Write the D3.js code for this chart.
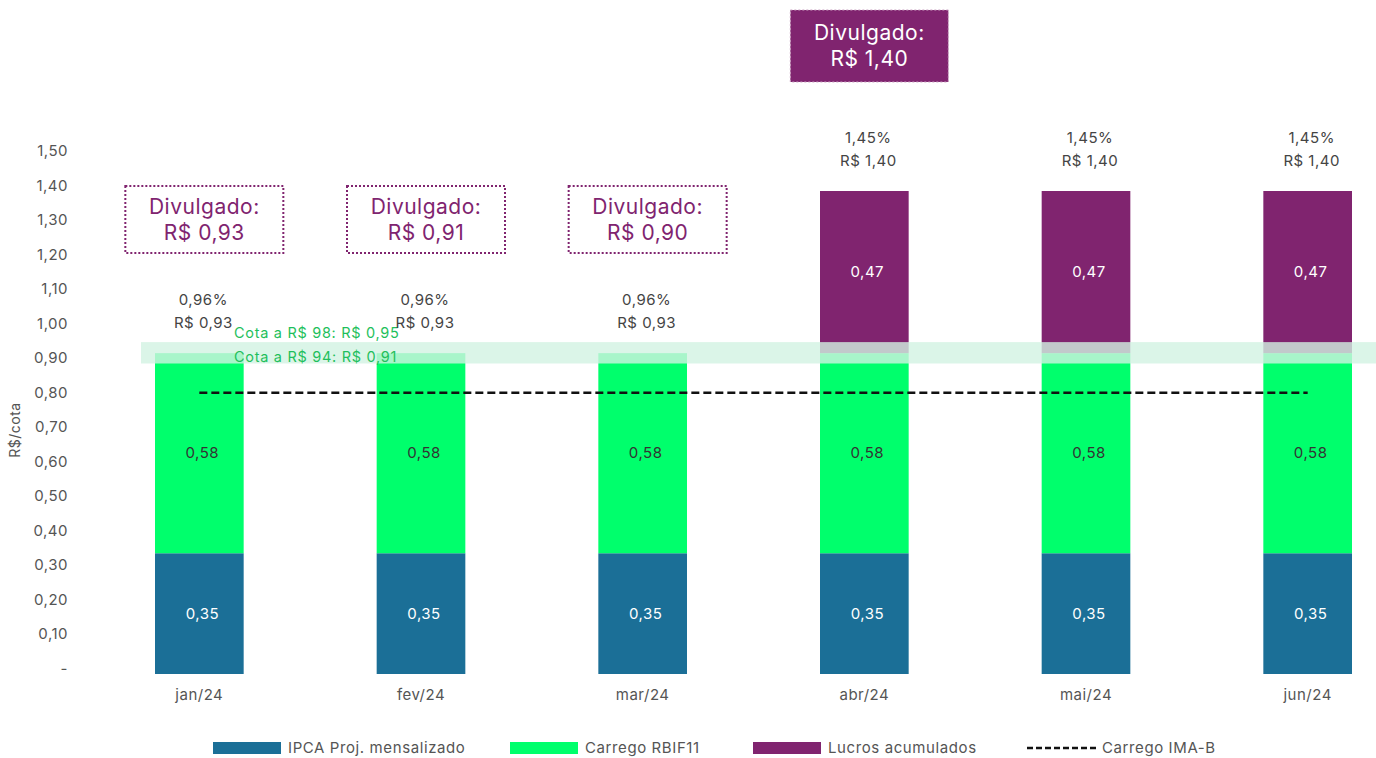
<!DOCTYPE html>
<html><head><meta charset="utf-8">
<script src="https://cdn.jsdelivr.net/npm/d3@7"></script>
<style>body{margin:0;background:#fff}svg{display:block}text{font-family:Inter,"DejaVu Sans",sans-serif;letter-spacing:0.5px}</style>
</head><body><div id="c"></div>
<script>
const months = ["jan/24","fev/24","mar/24","abr/24","mai/24","jun/24"];
const ipca = [0.35,0.35,0.35,0.35,0.35,0.35];
const carrego = [0.58,0.58,0.58,0.58,0.58,0.58];
const lucros = [0,0,0,0.47,0.47,0.47];
const imab = [0.815,0.815,0.815,0.815,0.815,0.815];
const pctLabels = ["0,96%","0,96%","0,96%","1,45%","1,45%","1,45%"];
const totLabels = ["R$ 0,93","R$ 0,93","R$ 0,93","R$ 1,40","R$ 1,40","R$ 1,40"];
const divulgado = ["R$ 0,93","R$ 0,91","R$ 0,90","R$ 1,40"];
const yTicks = [0,0.1,0.2,0.3,0.4,0.5,0.6,0.7,0.8,0.9,1.0,1.1,1.2,1.3,1.4,1.5];
const cotaBand = [0.90,0.962];
const cotaLabels = ["Cota a R$ 98: R$ 0,95","Cota a R$ 94: R$ 0,91"];
const seriesNames = ["IPCA Proj. mensalizado","Carrego RBIF11","Lucros acumulados","Carrego IMA-B"];
const colors = ["#1b6f97","#00ff6c","#80246f"];

const W=1376,H=758;
const svg=d3.select("#c").append("svg").attr("width",W).attr("height",H);
const x=d3.scaleBand().domain(months).range([155,1352]).paddingInner(0.6).paddingOuter(0);
const y=d3.scaleLinear().domain([0,1.5]).range([674,156.5]);
const fmt=v=>v===0?"-":d3.format(".2f")(v).replace(".",",");

// y axis
const ya=svg.append("g").attr("transform","translate(70,0)")
  .call(d3.axisLeft(y).tickValues(yTicks).tickFormat(fmt).tickSize(0).tickPadding(2));
ya.select(".domain").remove();
ya.selectAll("text").attr("font-size",15).attr("fill","#555").attr("dy","-0.05em")
  .attr("font-family","Inter,'DejaVu Sans',sans-serif");
svg.append("text").attr("transform","translate(20,430) rotate(-90)").attr("text-anchor","middle")
  .attr("font-size",14).attr("fill","#555").text("R$/cota");

// x axis
const xa=svg.append("g").attr("transform","translate(0,683)")
  .call(d3.axisBottom(x).tickSize(0).tickPadding(6));
xa.select(".domain").remove();
xa.selectAll("text").attr("font-size",15).attr("fill","#555").attr("font-family","Inter,'DejaVu Sans',sans-serif");

// stacked bars
const rows=months.map((m,i)=>({m,ipca:ipca[i],carrego:carrego[i],lucros:lucros[i]}));
const keys=["ipca","carrego","lucros"];
const stack=d3.stack().keys(keys)(rows);
stack.forEach((s,k)=>{
  svg.append("g").selectAll("rect").data(s).join("rect")
    .attr("x",d=>x(d.data.m)).attr("width",x.bandwidth())
    .attr("y",d=>y(d[1])).attr("height",d=>Math.max(0,y(d[0])-y(d[1])))
    .attr("fill",colors[k]);
  svg.append("g").selectAll("text").data(s.filter(d=>d[1]-d[0]>0)).join("text")
    .attr("x",d=>x(d.data.m)+x.bandwidth()/2+3).attr("y",d=>y((d[0]+d[1])/2))
    .attr("dy","0.35em").attr("text-anchor","middle").attr("font-size",15)
    .attr("fill",k===1?"#333":"#fff").text(d=>fmt(d[1]-d[0]));
});

// cota band (semi-transparent overlay)
svg.append("rect").attr("x",141).attr("width",W-141)
  .attr("y",y(cotaBand[1])).attr("height",y(cotaBand[0])-y(cotaBand[1]))
  .attr("fill","rgb(210,243,226)").attr("fill-opacity",0.8);
svg.append("g").selectAll("text").data(cotaLabels).join("text")
  .attr("x",234).attr("y",(d,i)=>333+i*24).attr("dy","0.35em")
  .attr("font-size",14.5).attr("fill","#1fbf5c").style("letter-spacing","0.7px").text(d=>d);

// IMA-B dashed line
const line=d3.line().x((d,i)=>x(months[i])+x.bandwidth()/2).y(d=>y(d));
svg.append("path").datum(imab).attr("d",line).attr("fill","none")
  .attr("stroke","#111").attr("stroke-width",2.5).attr("stroke-dasharray","8,4");

// totals above bars
const totals=rows.map(r=>r.ipca+r.carrego+r.lucros);
const tg=svg.append("g");
months.forEach((m,i)=>{
  const cx=x(m)+x.bandwidth()/2+4;
  const top=y(totals[i]);
  tg.append("text").attr("x",cx).attr("y",top-53).attr("dy","0.35em").attr("text-anchor","middle")
    .attr("font-size",15).attr("fill","#444").text(pctLabels[i]);
  tg.append("text").attr("x",cx).attr("y",top-30).attr("dy","0.35em").attr("text-anchor","middle")
    .attr("font-size",15).attr("fill","#444").text(totLabels[i]);
});

// Divulgado boxes
divulgado.forEach((v,i)=>{
  const cx=x(months[i])+x.bandwidth()/2+5;
  const filled=i===3;
  const by=filled?10:186, bh=filled?72:67;
  svg.append("rect").attr("x",cx-79).attr("y",by).attr("width",158).attr("height",bh)
    .attr("fill",filled?colors[2]:"none").attr("stroke",filled?"#c9a0c0":colors[2])
    .attr("stroke-width",filled?1:2).attr("stroke-dasharray","2,2");
  const tc=filled?"#fff":colors[2];
  svg.append("text").attr("x",cx).attr("y",by+bh/2-13).attr("dy","0.35em").attr("text-anchor","middle")
    .attr("font-size",21).attr("fill",tc).text("Divulgado:");
  svg.append("text").attr("x",cx).attr("y",by+bh/2+13).attr("dy","0.35em").attr("text-anchor","middle")
    .attr("font-size",21).attr("fill",tc).text(v);
});

// legend
const lx=[213,510,753,1027];
seriesNames.forEach((n,i)=>{
  if(i<3) svg.append("rect").attr("x",lx[i]).attr("y",742).attr("width",68).attr("height",12).attr("fill",colors[i]);
  else svg.append("line").attr("x1",lx[i]).attr("x2",lx[i]+69).attr("y1",748).attr("y2",748)
    .attr("stroke","#111").attr("stroke-width",2.5).attr("stroke-dasharray","6,3");
  svg.append("text").attr("x",lx[i]+75).attr("y",748).attr("dy","0.35em")
    .attr("font-size",15).attr("fill","#555").style("letter-spacing","0.6px").text(n);
});
</script></body></html>
